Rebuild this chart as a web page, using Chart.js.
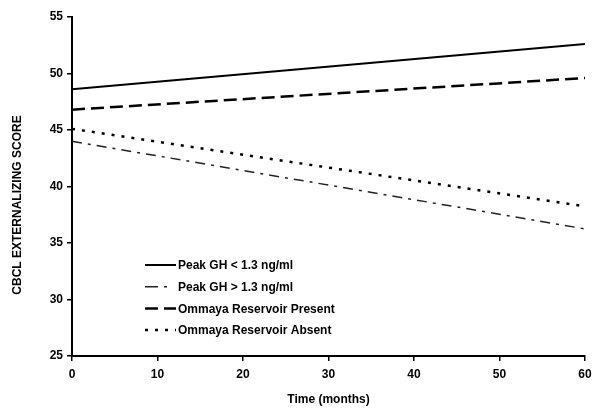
<!DOCTYPE html>
<html>
<head>
<meta charset="utf-8">
<title>CBCL Externalizing Score</title>
<script src="https://cdn.jsdelivr.net/npm/chart.js@4"></script>
<style>
  html, body { margin: 0; padding: 0; background: #ffffff; }
  #chartWrap { width: 601px; height: 418px; position: relative; }
</style>
</head>
<body>
<div id="chartWrap"><canvas id="scoreChart"></canvas></div>
<script>
// Values (each line is a straight fit, so start and end)
const months = [0, 60];
const peakGhLow = [48.6, 52.6];
const peakGhHigh = [44.0, 36.25];
const ommayaPresent = [46.8, 49.6];
const ommayaAbsent = [45.1, 38.25];

const seriesLabels = [
  'Peak GH < 1.3 ng/ml',
  'Peak GH > 1.3 ng/ml',
  'Ommaya Reservoir Present',
  'Ommaya Reservoir Absent'
];
const yTitle = 'CBCL EXTERNALIZING SCORE';
const xTitle = 'Time (months)';

const FONT = '"Liberation Sans", Arial, sans-serif';

function toPoints(values) {
  return months.map((m, i) => ({ x: m, y: values[i] }));
}

// Legend sits inside the plot, lower left, like the original figure.
// The y title is drawn here too because the original centres it on the page, not the plot.
const insideLegend = {
  id: 'insideLegend',
  afterDraw(chart) {
    const ctx = chart.ctx;
    const area = chart.chartArea;
    const startX = area.left + 73;
    const startY = area.top + 248;
    const rowGap = 21.7;
    const lineLen = 31;

    ctx.save();
    chart.data.datasets.forEach((ds, i) => {
      const y = startY + i * rowGap;
      ctx.beginPath();
      ctx.strokeStyle = ds.borderColor;
      ctx.lineWidth = ds.borderWidth;
      ctx.setLineDash(ds.legendDash || ds.borderDash || []);
      ctx.moveTo(startX, y);
      ctx.lineTo(startX + lineLen, y);
      ctx.stroke();

      ctx.setLineDash([]);
      ctx.fillStyle = '#000000';
      ctx.font = 'bold 12px ' + FONT;
      ctx.textBaseline = 'middle';
      ctx.fillText(ds.label, startX + lineLen + 2, y + 1);
    });

    ctx.translate(18, 205);
    ctx.rotate(-Math.PI / 2);
    ctx.font = 'bold 12px ' + FONT;
    ctx.textAlign = 'center';
    ctx.textBaseline = 'middle';
    ctx.fillText(yTitle, 0, 0);
    ctx.restore();
  }
};

const ctx = document.getElementById('scoreChart').getContext('2d');

new Chart(ctx, {
  type: 'line',
  data: {
    datasets: [
      {
        label: seriesLabels[0],
        data: toPoints(peakGhLow),
        borderColor: '#000000',
        borderWidth: 2,
        borderDash: []
      },
      {
        label: seriesLabels[1],
        data: toPoints(peakGhHigh),
        borderColor: '#222222',
        borderWidth: 1.5,
        borderDash: [10, 6, 3, 6],
        legendDash: [13, 6, 3, 40]
      },
      {
        label: seriesLabels[2],
        data: toPoints(ommayaPresent),
        borderColor: '#000000',
        borderWidth: 2.5,
        borderDash: [13, 6]
      },
      {
        label: seriesLabels[3],
        data: toPoints(ommayaAbsent),
        borderColor: '#000000',
        borderWidth: 2.5,
        borderDash: [3, 7]
      }
    ]
  },
  options: {
    responsive: true,
    maintainAspectRatio: false,
    animation: false,
    layout: {
      padding: { top: 17, right: 16, bottom: 0, left: 0 }
    },
    elements: {
      point: { radius: 0 },
      line: { tension: 0, borderCapStyle: 'butt' }
    },
    scales: {
      x: {
        type: 'linear',
        min: 0,
        max: 60,
        afterFit: scale => { scale.height = 62; },
        ticks: {
          stepSize: 10,
          color: '#000000',
          padding: 6,
          font: { family: FONT, size: 12, weight: 'bold' }
        },
        grid: {
          drawOnChartArea: false,
          drawTicks: true,
          tickLength: 5,
          color: '#000000',
          lineWidth: 1.5
        },
        border: { display: true, color: '#000000', width: 2 },
        title: {
          display: true,
          text: xTitle,
          color: '#000000',
          padding: { top: 0, bottom: 11 },
          font: { family: FONT, size: 12, weight: 'bold' }
        }
      },
      y: {
        min: 25,
        max: 55,
        afterFit: scale => { scale.width = 72; },
        ticks: {
          stepSize: 5,
          color: '#000000',
          padding: 4,
          font: { family: FONT, size: 12, weight: 'bold' }
        },
        grid: {
          drawOnChartArea: false,
          drawTicks: true,
          tickLength: 5,
          color: '#000000',
          lineWidth: 1.5
        },
        border: { display: true, color: '#000000', width: 2 }
      }
    },
    plugins: {
      legend: { display: false },
      tooltip: { enabled: false }
    }
  },
  plugins: [insideLegend]
});
</script>
</body>
</html>
